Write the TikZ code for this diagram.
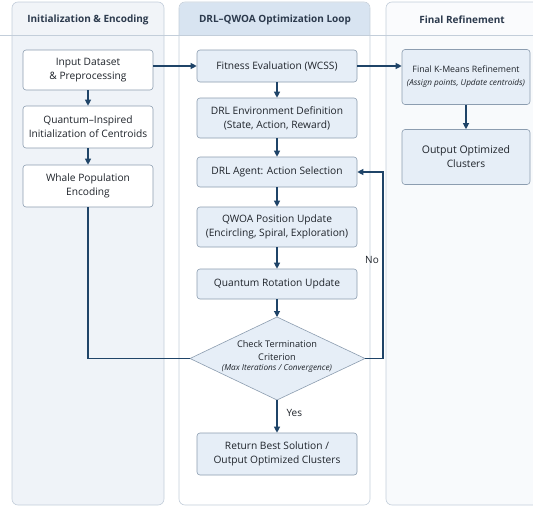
\documentclass[tikz,border=0pt]{standalone}
\usepackage{fontspec}
\setmainfont{Open Sans}
\usetikzlibrary{arrows.meta}
\definecolor{navy}{HTML}{1F4468}
\definecolor{lanebd}{HTML}{C3CEDA}
\definecolor{boxbd}{HTML}{8C9DB0}
\definecolor{txt}{HTML}{1E232A}
\definecolor{hdrtxt}{HTML}{2C3A4D}
\definecolor{laneA}{HTML}{EFF3F8}
\definecolor{laneC}{HTML}{F8FAFC}
\definecolor{hdrA}{HTML}{F1F4F8}
\definecolor{hdrB}{HTML}{D8E4F1}
\definecolor{hdrC}{HTML}{FAFBFD}
\definecolor{boxblue}{HTML}{E6EEF7}
\newcommand\mynote{\fontsize{8.2}{9.5}\selectfont\itshape}
\tikzset{
  lane/.style={draw=lanebd, line width=0.6pt, rounded corners=6pt},
  hdr/.style={font=\fontsize{10}{12}\selectfont\bfseries, text=hdrtxt},
  procbox/.style={draw=boxbd, line width=0.6pt, rounded corners=3pt, align=center,
    text=txt, font=\fontsize{10.2}{14}\selectfont, inner sep=0pt},
  whitebox/.style={procbox, fill=white},
  bluebox/.style={procbox, fill=boxblue},
  flow/.style={draw=navy, line width=1.1pt, -{Triangle[length=6pt,width=6pt]}},
  flowline/.style={draw=navy, line width=1.1pt},
  lbl/.style={font=\fontsize{10}{12}\selectfont, text=txt}
}
\begin{document}
\begin{tikzpicture}[x=1pt,y=-1pt]
\useasboundingbox (0,0) rectangle (533,506);
% lanes
\begin{scope}
\clip (0,0) rectangle (533,506);
\fill[laneA, rounded corners=6pt] (12,2) rectangle (164,505);
\fill[hdrA] (12.3,8) rectangle (163.7,35);
\fill[hdrA, rounded corners=6pt] (12.3,2.3) rectangle (163.7,20);
\draw[lane] (12,2) rectangle (164,505);
\fill[white, rounded corners=6pt] (179,2) rectangle (370,505);
\fill[hdrB] (179.3,8) rectangle (369.7,35);
\fill[hdrB, rounded corners=6pt] (179.3,2.3) rectangle (369.7,20);
\draw[lane] (179,2) rectangle (370,505);
\fill[laneC, rounded corners=6pt] (386,2) rectangle (545,505);
\fill[hdrC] (386.3,8) rectangle (544,35);
\fill[hdrC, rounded corners=6pt] (386.3,2.3) rectangle (544,20);
\draw[lane] (386,2) rectangle (545,505);
\draw[lanebd, line width=0.6pt] (0,35) -- (533,35);
\end{scope}
\node[hdr] (h1) at (88,20) {Initialization \& Encoding};
\node[hdr] (h2) at (275,20) {DRL–QWOA Optimization Loop};
\node[hdr] (h3) at (462,20) {Final Refinement};
% lane 1
\node[whitebox, minimum width=130pt, minimum height=40pt] (in) at (88,70) {Input Dataset\\\& Preprocessing};
\node[whitebox, minimum width=130pt, minimum height=42pt] (qi) at (88,127) {Quantum–Inspired\\Initialization of Centroids};
\node[whitebox, minimum width=130pt, minimum height=42pt] (wh) at (88,186) {Whale Population\\Encoding};
% lane 2
\node[bluebox, minimum width=160pt, minimum height=32pt] (fit) at (277,66) {Fitness Evaluation (WCSS)};
\node[bluebox, minimum width=160pt, minimum height=40pt] (env) at (277,118) {DRL Environment Definition\\(State, Action, Reward)};
\node[bluebox, minimum width=160pt, minimum height=30pt] (agt) at (277,172) {DRL Agent: Action Selection};
\node[bluebox, minimum width=160pt, minimum height=40pt] (qw) at (277,227) {QWOA Position Update\\(Encircling, Spiral, Exploration)};
\node[bluebox, minimum width=160pt, minimum height=30pt] (qr) at (277,284) {Quantum Rotation Update};
\coordinate (dt) at (277,317);
\coordinate (db) at (277,400);
\coordinate (dl) at (190,358.5);
\coordinate (dr) at (365,358.5);
\filldraw[fill=boxblue, draw=boxbd, line width=0.6pt] (dt) -- (dr) -- (db) -- (dl) -- cycle;
\node[align=center, text=txt, font=\fontsize{9.2}{13}\selectfont, inner sep=0pt] (chk) at (277,356)
  {Check Termination\\Criterion\\[-3pt]{\mynote (Max Iterations / Convergence)}};
\node[bluebox, minimum width=160pt, minimum height=42pt] (ret) at (277,454) {Return Best Solution /\\Output Optimized Clusters};
% lane 3
\node[bluebox, minimum width=128pt, minimum height=55pt] (km) at (466,77)
  {{\fontsize{8.8}{11}\selectfont Final K-Means Refinement}\\[-1pt]{\mynote (Assign points, Update centroids)}};
\node[bluebox, minimum width=128pt, minimum height=55pt] (out) at (466,157) {\fontsize{10.5}{15}\selectfont Output Optimized\\Clusters};
% connectors
\draw[flow] (in.south) -- (qi.north);
\draw[flow] (qi.south) -- (wh.north);
\draw[flow] (in.east |- fit.west) -- (fit.west);
\draw[flow] (fit.east) -- (km.west |- fit.east);
\draw[flow] (km.south) -- (out.north);
\draw[flow] (fit.south) -- (env.north);
\draw[flow] (env.south) -- (agt.north);
\draw[flow] (agt.south) -- (qw.north);
\draw[flow] (qw.south) -- (qr.north);
\draw[flow] (qr.south) -- (dt);
\draw[flowline] (wh.south) |- (dl);
\coordinate (nc) at (383,358.5);
\draw[flow] (dr) -- (nc) |- (agt.east);
\draw[flow] (db) -- (ret.north);
\node[lbl, anchor=west] (yes) at (283,413) {Yes};
\node[lbl] (no) at (372,260) {No};
\end{tikzpicture}
\end{document}
